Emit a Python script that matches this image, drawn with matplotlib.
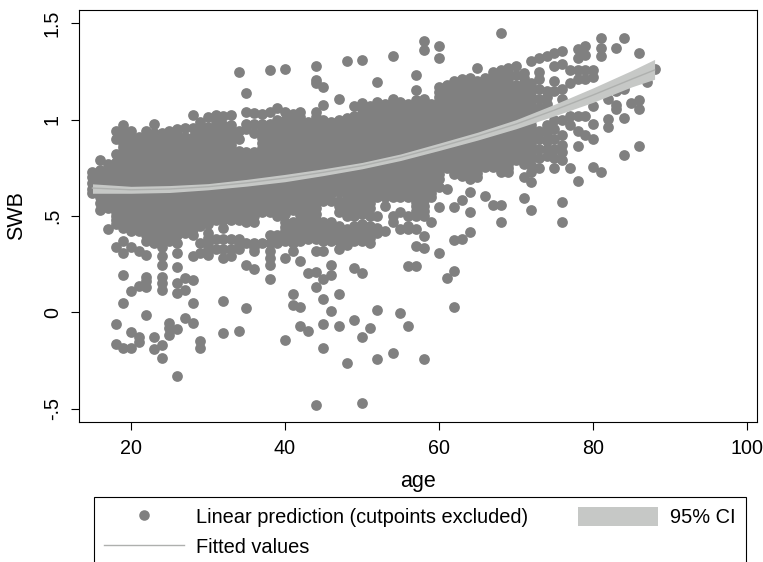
import matplotlib
matplotlib.use('Agg')
import matplotlib.pyplot as plt
from matplotlib.lines import Line2D
from matplotlib.patches import Patch

plt.rcParams['font.family'] = ['Liberation Sans', 'DejaVu Sans']

# scatter, one row of predictions per age
ages = list(range(15, 89))
swb_rows = [
    [.73, .70, .67, .64, .62],
    [.79, .74, .70, .66, .63, .60, .57, .53],
    [.77, .73, .69, .65, .61, .57, .54, .43],
    [.94, .90, .82, .78, .74, .70, .66, .62, .58, .54, .50, .46, .34, -.06, -.165],
    [.97, .93, .88, .84, .80, .76, .72, .68, .64, .60, .56, .52, .48, .44, .37, .31, .195, .05, -.185],
    [.94, .90, .86, .81, .76, .71, .66, .61, .56, .51, .46, .42, .34, .11, -.10, -.185],
    [.91, .87, .82, .77, .72, .67, .62, .57, .52, .47, .42, .32, .136, -.13, -.152],
    [.94, .90, .85, .80, .75, .70, .65, .60, .55, .50, .45, .40, .37, .30, .185, .16, .13, -.016],
    [.98, .93, .89, .84, .79, .74, .69, .64, .59, .54, .49, .44, .39, .36, -.127, -.19],
    [.93, .88, .83, .78, .73, .68, .63, .58, .53, .48, .43, .38, .34, .29, .245, .185, .15, .116, -.17, -.236],
    [.94, .89, .84, .79, .74, .69, .64, .59, .54, .49, .44, .39, .37, -.054, -.083, -.118],
    [.95, .90, .85, .80, .75, .70, .65, .60, .55, .50, .45, .40, .36, .31, .237, .154, .098, -.087, -.33],
    [.955, .91, .86, .81, .76, .71, .66, .61, .56, .51, .46, .41, .176, .116, -.031],
    [1.024, .955, .91, .86, .81, .76, .71, .66, .61, .56, .51, .46, .40, .29, .17, .05, -.054],
    [.99, .95, .90, .85, .80, .75, .70, .65, .60, .55, .50, .45, .36, .31, -.15, -.185],
    [1.015, .96, .91, .86, .81, .76, .71, .66, .61, .56, .51, .46, .41, .36, .30],
    [1.024, .97, .92, .87, .82, .77, .72, .67, .62, .57, .52, .48, .38, .33],
    [1.02, .97, .92, .87, .82, .77, .72, .67, .62, .57, .52, .48, .44, .38, .33, .28, .06, -.11],
    [1.024, .97, .92, .87, .82, .77, .72, .67, .62, .57, .52, .48, .38, .33, .29],
    [1.25, .94, .90, .84, .79, .74, .69, .64, .59, .54, .48, .38, .33, -.097],
    [1.139, 1.04, .98, .95, .83, .78, .73, .68, .63, .58, .53, .47, .36, .245, .02],
    [1.036, .98, .93, .83, .78, .73, .68, .63, .58, .53, .47, .36, .32, .224],
    [1.03, .98, .93, .88, .83, .78, .73, .68, .63, .58, .52, .36],
    [1.26, 1.04, .98, .93, .88, .83, .78, .73, .68, .63, .58, .52, .40, .36, .32, .28, .245, .173],
    [1.06, 1.0, .95, .90, .85, .80, .75, .70, .65, .60, .55, .50, .40, .36],
    [1.263, 1.04, 1.0, .95, .90, .85, .80, .75, .70, .65, .60, .55, .47, .42, .37, .28, -.142],
    [1.03, .98, .93, .88, .83, .78, .73, .68, .63, .58, .53, .47, .42, .36, .32, .095, .038],
    [1.04, .99, .94, .89, .84, .79, .74, .69, .64, .59, .54, .47, .42, .37, .266, .027, -.07],
    [.99, .94, .89, .84, .79, .74, .69, .64, .59, .54, .48, .43, .38, .206, -.097],
    [1.277, 1.206, 1.19, 1.04, .99, .94, .89, .84, .79, .74, .69, .64, .59, .54, .48, .43, .38, .318, .21, .13, -.48],
    [1.168, 1.078, 1.0, .95, .90, .85, .80, .75, .70, .65, .60, .58, .47, .42, .37, .318, .175, .069, -.062, -.185],
    [.99, .94, .89, .84, .79, .74, .69, .64, .58, .47, .42, .37, .243, .196, .007],
    [1.106, 1.0, .95, .90, .85, .80, .75, .70, .65, .58, .52, .45, .41, .37, .33, .095, -.071],
    [1.303, 1.01, .96, .91, .86, .81, .76, .71, .66, .61, .56, .50, .43, .39, .35, -.265],
    [1.07, 1.02, .97, .92, .87, .82, .77, .72, .67, .62, .57, .50, .45, .41, .37, .23, -.04],
    [1.308, 1.085, 1.03, .98, .93, .88, .83, .78, .73, .68, .63, .57, .51, .46, .41, .37, .206, -.127, -.47],
    [1.07, 1.02, .97, .92, .87, .82, .77, .72, .67, .62, .57, .50, .45, .41, .36, -.08],
    [1.194, 1.093, 1.04, .99, .94, .89, .84, .79, .74, .69, .64, .60, .50, .44, .41, .012, -.24],
    [1.08, 1.03, .98, .93, .88, .83, .78, .73, .68, .64, .60, .55, .42],
    [1.329, 1.11, 1.06, 1.01, .96, .91, .86, .81, .76, .71, .66, .60, .50, .47, -.21],
    [1.09, 1.04, .99, .94, .89, .84, .79, .74, .69, .64, .60, .52, .43, -.005],
    [1.08, 1.03, .98, .93, .88, .83, .78, .73, .68, .63, .60, .50, .45, .43, .24, -.07],
    [1.234, 1.154, 1.10, 1.05, 1.0, .95, .90, .85, .80, .75, .70, .65, .60, .55, .50, .43, .344, .24],
    [1.41, 1.36, 1.105, 1.06, 1.01, .96, .91, .86, .81, .76, .71, .66, .61, .55, .50, .396, .335, -.242],
    [1.08, 1.03, .98, .93, .88, .83, .78, .73, .68, .64, .60, .467],
    [1.383, 1.322, 1.17, 1.12, 1.07, 1.02, .97, .92, .87, .82, .77, .72, .65, .545, .31],
    [1.18, 1.13, 1.08, 1.03, .98, .93, .88, .83, .79, .75, .64, .18],
    [1.20, 1.15, 1.10, 1.05, 1.0, .95, .90, .85, .80, .76, .72, .545, .375, .213, .03],
    [1.21, 1.16, 1.11, 1.06, 1.01, .96, .91, .86, .81, .76, .71, .583, .379],
    [1.215, 1.16, 1.11, 1.06, 1.01, .96, .91, .86, .81, .76, .72, .69, .626, .519, .418],
    [1.268, 1.20, 1.15, 1.10, 1.05, 1.0, .95, .90, .85, .80, .75, .70],
    [1.215, 1.17, 1.12, 1.07, 1.02, .97, .92, .87, .82, .78, .756, .605],
    [1.25, 1.20, 1.15, 1.10, 1.05, 1.0, .95, .90, .85, .80, .756, .557],
    [1.449, 1.26, 1.21, 1.16, 1.11, 1.06, 1.01, .96, .91, .86, .81, .77, .73, .557, .467],
    [1.27, 1.21, 1.16, 1.11, 1.06, 1.01, .96, .91, .86, .81, .77, .73],
    [1.28, 1.18, 1.13, 1.08, 1.03, .98, .93, .88, .83, .79],
    [1.24, 1.19, 1.14, 1.09, 1.04, .99, .94, .89, .84, .79, .77, .705, .595],
    [1.305, 1.19, 1.15, 1.10, 1.05, 1.0, .95, .90, .85, .80, .73, .678, .531],
    [1.318, 1.25, 1.21, 1.16, 1.11, 1.06, .94, .90, .85, .80, .75],
    [1.33, 1.15, 1.12, 1.08, .97, .93, .89, .85, .81],
    [1.344, 1.28, 1.20, 1.15, 1.0, .95, .90, .85, .80, .75],
    [1.355, 1.29, 1.16, 1.11, 1.0, .92, .87, .83, .79, .574, .47],
    [1.26, 1.19, 1.08, 1.02, .97, .75],
    [1.365, 1.32, 1.26, 1.21, 1.02, .94, .862, .682],
    [1.385, 1.335, 1.26, 1.21, 1.02, .92],
    [1.26, 1.22, 1.07, .98, .898, .756],
    [1.426, 1.37, 1.33, .727],
    [1.11, 1.003, .96],
    [1.374, 1.15, 1.076, 1.055],
    [1.422, 1.16, 1.01, .817],
    [1.086],
    [1.344, 1.102, 1.055, .862],
    [1.197],
    [1.263],
]

# the overplotted core of the cloud, between the points above
core_ages = list(range(17, 73))
core_rows = [
    [.71, .67, .63, .59, .55],
    [.76, .72, .68, .64, .60, .56, .52, .48],
    [.90, .86, .82, .78, .74, .70, .66, .62, .58, .54, .50, .46],
    [.88, .835, .785, .735, .685, .635, .585, .535, .485, .44],
    [.845, .795, .745, .695, .645, .595, .545, .495, .445],
    [.875, .825, .775, .725, .675, .625, .575, .525, .475, .425],
    [.91, .865, .815, .765, .715, .665, .615, .565, .515, .465, .415],
    [.905, .855, .805, .755, .705, .655, .605, .555, .505, .455, .405],
    [.915, .865, .815, .765, .715, .665, .615, .565, .515, .465, .415],
    [.925, .875, .825, .775, .725, .675, .625, .575, .525, .475, .425],
    [.885, .835, .785, .735, .685, .635, .585, .535, .485, .435],
    [.885, .835, .785, .735, .685, .635, .585, .535, .485, .43],
    [.925, .875, .825, .775, .725, .675, .625, .575, .525, .475],
    [.935, .885, .835, .785, .735, .685, .635, .585, .535, .485, .385, .33],
    [.995, .945, .895, .845, .795, .745, .695, .645, .595, .545, .50],
    [.945, .895, .845, .795, .745, .695, .645, .595, .545, .50],
    [.945, .895, .845, .795, .745, .695, .645, .595, .545, .50],
    [.815, .765, .715, .665, .615, .565, .51, .355],
    [.805, .755, .705, .655, .605, .555, .50],
    [.805, .755, .705, .655, .605, .555, .50, .34],
    [.955, .905, .855, .805, .755, .705, .655, .605, .55],
    [.955, .905, .855, .805, .755, .705, .655, .605, .55],
    [.975, .925, .875, .825, .775, .725, .675, .625, .575, .525],
    [.975, .925, .875, .825, .775, .725, .675, .625, .575, .51, .445, .395],
    [1.005, .955, .905, .855, .805, .755, .705, .655, .605, .555, .445, .39],
    [1.015, .965, .915, .865, .815, .765, .715, .665, .615, .565, .505, .445, .395],
    [.965, .915, .865, .815, .765, .715, .665, .615, .565, .51, .455, .405],
    [1.015, .965, .915, .865, .815, .765, .715, .665, .615, .565, .51, .455, .405],
    [.975, .925, .875, .825, .775, .725, .675, .625, .445, .395],
    [.965, .915, .865, .815, .765, .715, .665, .615, .445, .395],
    [.975, .925, .875, .825, .775, .725, .675, .625, .55, .43, .39],
    [.985, .935, .885, .835, .785, .735, .685, .635, .585, .53, .41, .37],
    [.995, .945, .895, .845, .795, .745, .695, .645, .595, .53, .43, .39],
    [1.055, 1.005, .955, .905, .855, .805, .755, .705, .655, .60, .54, .435, .39],
    [1.045, .995, .945, .895, .845, .795, .745, .695, .645, .595, .54, .43, .385],
    [1.065, 1.015, .965, .915, .865, .815, .765, .715, .665, .62],
    [1.055, 1.005, .955, .905, .855, .805, .755, .705, .66, .62],
    [1.085, 1.035, .985, .935, .885, .835, .785, .735, .685, .635],
    [1.065, 1.015, .965, .915, .865, .815, .765, .715, .665, .62],
    [1.055, 1.005, .955, .905, .855, .805, .755, .705, .655, .615],
    [1.075, 1.025, .975, .925, .875, .825, .775, .725, .675, .625, .575, .525],
    [1.08, 1.035, .985, .935, .885, .835, .785, .735, .685, .635, .585, .525],
    [1.055, 1.005, .955, .905, .855, .805, .755, .705, .655, .62],
    [1.145, 1.095, 1.045, .995, .945, .895, .845, .795, .745, .69],
    [1.155, 1.105, 1.055, 1.005, .955, .905, .855, .81, .77],
    [1.175, 1.125, 1.075, 1.025, .975, .925, .875, .825, .78, .74],
    [1.185, 1.135, 1.085, 1.035, .985, .935, .885, .835, .785, .735],
    [1.185, 1.135, 1.085, 1.035, .985, .935, .885, .835, .785, .74],
    [1.175, 1.125, 1.075, 1.025, .975, .925, .875, .825, .775, .725],
    [1.195, 1.145, 1.095, 1.045, .995, .945, .895, .845, .80],
    [1.225, 1.175, 1.125, 1.075, 1.025, .975, .925, .875, .825, .78],
    [1.235, 1.185, 1.135, 1.085, 1.035, .985, .935, .885, .835, .79, .75],
    [1.24, 1.185, 1.135, 1.085, 1.035, .985, .935, .885, .835, .79, .75],
    [1.23, 1.155, 1.105, 1.055, 1.005, .955, .905, .855, .81],
    [1.215, 1.165, 1.115, 1.065, 1.015, .965, .915, .865, .815],
    [1.17, 1.125, 1.075, 1.025, .975, .925, .875, .825, .765],
]

# quadratic fit and its 95% band, read at a few ages
fit_ages = [15, 20, 25, 30, 35, 40, 45, 50, 55, 60, 65, 70, 75, 80, 85, 88]
fit_swb = [.645, .636, .64, .652, .672, .697, .727, .761, .805, .858, .915, .977, 1.05, 1.128, 1.21, 1.258]
ci_low = [.618, .618, .622, .636, .655, .678, .71, .745, .788, .84, .894, .953, 1.02, 1.09, 1.17, 1.21]
ci_high = [.667, .654, .658, .668, .69, .716, .745, .778, .822, .878, .935, 1.0, 1.08, 1.165, 1.255, 1.313]

x_ticks = [20, 40, 60, 80, 100]
y_ticks = [-.5, 0, .5, 1, 1.5]
y_tick_labels = ['-.5', '0', '.5', '1', '1.5']

dot_color = '#808080'
band_color = '#c6c8c6'
line_color = '#aeb0ae'

x_pts = []
y_pts = []
for age, row in list(zip(ages, swb_rows)) + list(zip(core_ages, core_rows)):
    for v in row:
        x_pts.append(age)
        y_pts.append(v)

fig = plt.figure(figsize=(7.63, 5.62), dpi=100)
W, H = 763, 562
ax = fig.add_axes([79 / W, 1 - 422 / H, (757 - 79) / W, (422 - 10) / H])

ax.scatter(x_pts, y_pts, s=60, color=dot_color, linewidths=0, zorder=2)
ax.fill_between(fit_ages, ci_low, ci_high, color=band_color, linewidth=0, zorder=3)
ax.plot(fit_ages, fit_swb, color=line_color, lw=1, zorder=4)

ax.set_xlim(13.25, 101.3)
ax.set_ylim(-.5696, 1.5695)
ax.set_xticks(x_ticks)
ax.set_yticks(y_ticks)
ax.set_yticklabels(y_tick_labels, rotation=90, va='center')
ax.tick_params(length=5.8, width=.8, labelsize=14.2, pad=6.5)
ax.set_xlabel('age', fontsize=15.5, labelpad=9)
ax.set_ylabel('SWB', fontsize=15.5, labelpad=11.5)

handles = [
    Line2D([], [], marker='o', ls='none', color=dot_color, markersize=7.6, markeredgewidth=0),
    Line2D([], [], color=line_color, lw=1),
    Patch(facecolor=band_color, edgecolor='none'),
]
labels = ['Linear prediction (cutpoints excluded)', 'Fitted values', '95% CI']
# box runs past the bottom of the figure, same as the original crop
leg = fig.legend(handles, labels, ncol=2, loc='upper left',
                 bbox_to_anchor=(94 / W, 1 - 569 / H, (745.5 - 94) / W, 72 / H),
                 mode='expand', borderaxespad=0, borderpad=.5, fontsize=14.4,
                 handlelength=4.0, handleheight=1.1, handletextpad=.6,
                 labelspacing=.45, fancybox=False, framealpha=1, edgecolor='black')
leg.get_frame().set_linewidth(.8)

fig.savefig('out.png', dpi=100)
